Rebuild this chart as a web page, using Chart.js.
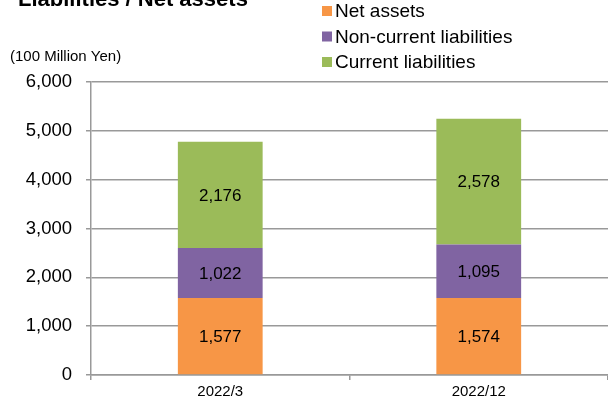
<!DOCTYPE html>
<html>
<head>
<meta charset="utf-8">
<script src="https://cdn.jsdelivr.net/npm/chart.js@4/dist/chart.umd.min.js"></script>
<style>
  html, body { margin: 0; padding: 0; background: #fff; }
  #wrap { position: relative; width: 608px; height: 400px; }
</style>
</head>
<body>
<div id="wrap"><canvas id="chart" width="608" height="400"></canvas></div>
<script>
const periodes      = ['2022/3', '2022/12'];
const nettoActiva   = [1577, 1574];
const langlopend    = [1022, 1095];
const kortlopend    = [2176, 2578];
const reeksNamen    = ['Net assets', 'Non-current liabilities', 'Current liabilities'];
const reeksKleuren  = ['#F79646', '#8064A2', '#9BBB59'];
const titelTekst    = 'Liabilities / Net assets';
const eenheidTekst  = '(100 Million Yen)';

const FONT = 'Arial, "Liberation Sans", sans-serif';
const fmt  = v => v.toLocaleString('en-US');

// Titel, eenheid, legenda en waardelabels worden op het canvas getekend.
const extraPlugin = {
  id: 'extra',
  afterDatasetsDraw(c) {
    const ctx = c.ctx;
    ctx.save();
    ctx.fillStyle = '#000';
    ctx.textBaseline = 'middle';
    ctx.textAlign = 'center';
    ctx.font = '17px ' + FONT;
    c.data.datasets.forEach((ds, di) => {
      c.getDatasetMeta(di).data.forEach((bar, i) => {
        const midY = (bar.y + bar.base) / 2;
        ctx.fillText(fmt(ds.data[i]), bar.x, midY + 1);
      });
    });
    ctx.restore();
  },
  afterDraw(c) {
    const ctx = c.ctx;
    ctx.save();
    ctx.fillStyle = '#000';
    ctx.textAlign = 'left';
    ctx.textBaseline = 'alphabetic';
    ctx.font = 'bold 22px ' + FONT;
    ctx.fillText(titelTekst, 18, 6);

    ctx.font = '15px ' + FONT;
    ctx.textBaseline = 'middle';
    ctx.fillText(eenheidTekst, 10, 57);

    ctx.font = '19px ' + FONT;
    reeksNamen.forEach((naam, i) => {
      const y = 11 + i * 25.5;
      ctx.fillStyle = reeksKleuren[i];
      ctx.fillRect(322, y - 5, 10, 10);
      ctx.fillStyle = '#000';
      ctx.fillText(naam, 335, y + 1);
    });
    ctx.restore();
  }
};

new Chart(document.getElementById('chart'), {
  type: 'bar',
  plugins: [extraPlugin],
  data: {
    labels: periodes,
    datasets: [
      { label: reeksNamen[0], data: nettoActiva, backgroundColor: reeksKleuren[0] },
      { label: reeksNamen[1], data: langlopend,  backgroundColor: reeksKleuren[1] },
      { label: reeksNamen[2], data: kortlopend,  backgroundColor: reeksKleuren[2] }
    ]
  },
  options: {
    responsive: false, animation: false,
    layout: { padding: { top: 82, right: 0, bottom: 0, left: 0 } },
    datasets: { bar: { barPercentage: 0.328, categoryPercentage: 1, borderWidth: 0 } },
    plugins: { legend: { display: false }, tooltip: { enabled: false } },
    scales: {
      x: {
        stacked: true,
        afterFit: s => { s.height = 24; },
        border: { color: '#999', width: 1.5 },
        grid: { display: true, drawOnChartArea: false, drawTicks: true, tickLength: 5, color: '#999', lineWidth: 1.5, offset: true },
        ticks: { color: '#000', font: { family: FONT, size: 15 }, padding: 3, maxRotation: 0 }
      },
      y: {
        stacked: true, min: 0, max: 6000,
        afterFit: s => { s.width = 91; },
        border: { color: '#999', width: 1.5 },
        grid: { color: '#999', lineWidth: 1.5, tickLength: 5 },
        ticks: { stepSize: 1000, color: '#000', font: { family: FONT, size: 18.5 }, padding: 14, callback: v => fmt(v) }
      }
    }
  }
});
</script>
</body>
</html>
